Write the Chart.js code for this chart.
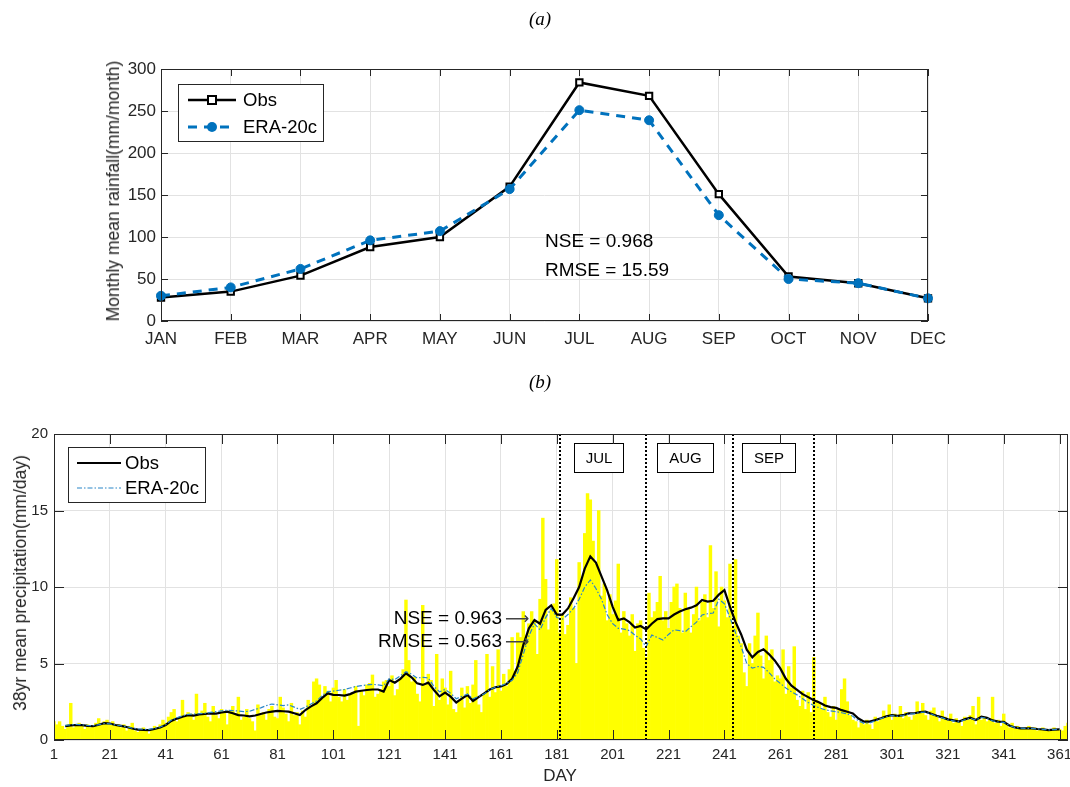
<!DOCTYPE html>
<html><head><meta charset="utf-8">
<script src="https://cdn.jsdelivr.net/npm/chart.js@4.4.1/dist/chart.umd.min.js"></script>
<style>
body{margin:0;background:#fff;width:1070px;height:787px;position:relative;overflow:hidden;font-family:"Liberation Sans",Arial,sans-serif;color:#262626}
canvas{position:absolute;left:0}
.t{position:absolute;white-space:nowrap;line-height:20px;z-index:2}
.cap{font-family:"Liberation Serif","Times New Roman",serif;font-style:italic;font-size:19px;color:#000;transform:translateX(-50%)}
.yt{transform:translate(-50%,-50%) rotate(-90deg);font-size:17.5px}
.nse{font-size:19px;color:#000}
.arr{font-family:"DejaVu Sans",sans-serif;font-size:17px;color:#444}
</style></head><body>
<canvas id="ca" width="1070" height="365" style="top:0"></canvas>
<canvas id="cb" width="1070" height="422" style="top:365px"></canvas>
<div class="t cap" style="left:540px;top:9px">(a)</div>
<div class="t cap" style="left:540px;top:372px">(b)</div>
<div class="t yt" style="left:113px;top:191px">Monthly mean rainfall(mm/month)</div>
<div class="t yt" style="left:20px;top:583px">38yr mean precipitation(mm/day)</div>
<div class="t" style="left:560px;top:766px;font-size:17px;transform:translateX(-50%)">DAY</div>
<div class="t nse" style="left:545px;top:231px">NSE = 0.968</div>
<div class="t nse" style="left:545px;top:260px">RMSE = 15.59</div>
<div class="t nse" style="right:568px;top:608px">NSE = 0.963</div>
<div class="t nse" style="right:568px;top:631px">RMSE = 0.563</div>
<div class="t arr" style="left:505px;top:608px">⟶</div>
<div class="t arr" style="left:505px;top:631px">⟶</div>
<script>
Chart.defaults.font.family='"Liberation Sans", Arial, sans-serif';
Chart.defaults.color='#262626';

// (a) monthly means
const months=['JAN','FEB','MAR','APR','MAY','JUN','JUL','AUG','SEP','OCT','NOV','DEC'];
const obsMonthly=[28,35,54,88,100,160,284,268,151,53,45,27];
const eraMonthly=[30,40,62,96,107,157,251,239,126,50,45,27];

// (b) daily 38yr mean, days 1..365
const dailyObs=[
1.2,1.0,1.2,0.9,0.7,1.0,2.4,0.8,1.0,1.1,
0.9,0.7,1.0,0.8,0.9,1.1,1.4,1.0,1.2,1.3,
1.1,1.2,0.9,1.0,0.8,1.0,0.6,0.9,1.1,0.6,
0.5,0.7,0.8,0.6,0.4,0.7,0.9,0.8,1.0,1.3,
1.1,1.5,1.8,2.0,1.2,1.4,2.6,1.5,1.8,1.7,
1.3,3.0,1.6,1.9,2.4,1.5,1.2,2.2,1.6,1.4,
2.0,1.8,1.0,1.9,2.2,1.7,2.8,1.3,1.5,2.0,
1.4,1.2,0.6,2.3,1.6,1.8,1.3,2.0,2.2,1.5,
1.4,2.8,2.1,1.7,1.2,2.4,1.6,1.8,1.0,1.9,
1.5,2.6,2.2,3.8,4.0,3.6,2.8,3.5,3.2,2.5,
3.4,3.9,2.8,2.5,3.3,2.6,3.0,3.1,3.5,0.9,
3.2,2.9,3.6,3.7,4.25,2.8,3.0,3.3,3.8,3.9,
3.5,4.2,2.9,3.3,4.0,4.6,9.15,5.2,3.8,4.1,
3.0,2.5,8.8,3.6,4.3,3.9,2.2,5.6,2.6,4.0,
3.4,2.3,4.5,2.0,1.8,2.5,3.4,2.1,3.5,2.4,
3.6,5.2,2.3,1.8,3.0,5.6,2.8,4.8,3.1,5.9,
3.2,4.3,3.5,4.6,6.7,4.5,7.0,6.7,8.4,6.8,
7.6,8.4,7.8,5.6,9.2,14.5,10.5,7.2,8.5,8.9,
11.8,7.0,8.2,6.9,7.5,9.3,8.6,5.0,11.6,10.5,
13.5,16.1,15.7,13.0,11.5,15.0,9.4,10.2,7.8,9.5,
8.2,9.1,11.5,7.0,8.4,7.6,6.8,8.2,5.8,7.6,
7.8,6.0,5.4,9.6,8.0,8.4,9.0,10.7,7.8,8.4,
7.3,9.0,10.0,10.2,8.6,7.0,9.6,8.6,7.0,8.2,
10.0,7.8,9.0,9.5,8.0,12.7,8.6,11.0,7.4,10.0,
9.1,8.0,11.5,7.3,11.8,6.8,6.3,4.4,3.5,6.3,
5.0,6.8,8.3,5.5,4.0,6.8,5.2,5.9,3.8,4.2,
4.0,5.9,3.0,4.8,3.4,6.1,2.6,2.2,3.2,2.0,
3.1,1.8,5.4,2.6,2.4,2.0,2.8,1.8,1.5,2.2,
1.3,2.0,3.3,4.0,2.5,1.6,1.3,1.2,0.8,1.2,
1.0,1.3,1.0,0.7,1.5,1.2,1.4,1.9,1.6,2.3,
1.3,1.7,1.5,2.2,1.4,1.8,1.5,1.3,1.6,2.5,
1.8,2.4,1.6,1.3,1.9,2.1,1.6,1.2,1.9,1.5,
1.3,1.7,1.1,1.4,1.2,0.9,1.5,1.3,1.6,2.2,
1.0,2.8,1.3,1.5,1.2,1.4,2.8,1.1,1.3,0.9,
1.7,1.0,0.8,1.1,0.7,0.9,0.8,0.7,0.8,0.9,
0.7,0.8,0.6,0.7,0.8,0.6,0.7,0.6,0.8,0.7,
0.7,0.6,0.9,1.1,1.0];
const days=dailyObs.map((v,i)=>i+1);

// smoothed curves, read at odd days 5..361
const obsSmooth=[
0.90,0.95,0.98,0.97,0.92, 0.90,1.00,1.10,1.08,0.98, 0.92,0.85,0.75,0.68,0.66, 0.65,0.72,0.82,0.98,1.25,
1.40,1.52,1.62,1.60,1.67, 1.70,1.74,1.72,1.80,1.85, 1.75,1.63,1.60,1.55,1.60, 1.70,1.80,1.85,1.90,1.88,
1.85,1.75,1.63,1.96,2.20, 2.40,2.75,3.05,2.95,2.94, 2.90,3.00,3.16,3.22,3.27, 3.30,3.30,3.16,3.92,3.75,
4.00,4.36,4.10,3.70,3.60, 3.75,3.27,2.85,3.10,2.83, 2.45,2.70,2.94,2.55,2.80, 3.05,3.30,3.45,3.50,3.65,
4.00,4.80,6.20,7.30,7.84, 7.60,8.50,8.80,8.20,8.20, 8.60,9.26,10.00,11.20,12.00, 11.60,10.70,9.80,8.70,7.84,
7.95,7.70,7.35,7.45,7.23, 7.60,7.90,7.95,7.95,8.20, 8.40,8.55,8.65,8.80,9.15, 9.05,9.10,9.50,9.80,8.70,
7.70,6.90,5.90,5.40,5.75, 5.93,5.60,5.20,4.68,4.00, 3.55,3.27,3.00,2.80,2.60, 2.45,2.25,2.15,2.10,1.95,
1.85,1.74,1.40,1.20,1.20, 1.30,1.42,1.55,1.63,1.58, 1.62,1.74,1.75,1.82,1.85, 1.72,1.58,1.48,1.35,1.28,
1.20,1.35,1.46,1.31,1.52, 1.45,1.28,1.20,1.18,0.95, 0.82,0.76,0.76,0.76,0.72, 0.70,0.65,0.68,0.70];
const eraSmooth=[
0.95,1.00,1.02,1.00,0.95, 0.93,1.00,1.08,1.05,0.98, 0.93,0.86,0.78,0.72,0.70, 0.70,0.75,0.85,1.00,1.30,
1.45,1.58,1.68,1.70,1.72, 1.75,1.80,1.85,1.90,1.95, 1.92,1.90,1.85,1.88,2.00, 2.10,2.25,2.35,2.30,2.25,
2.30,2.15,2.00,2.15,2.35, 2.55,2.90,3.16,3.20,3.25, 3.30,3.40,3.50,3.55,3.60, 3.64,3.60,3.55,4.00,3.95,
4.20,4.47,4.30,4.05,4.10, 4.05,3.50,3.15,3.30,3.05, 2.70,2.85,3.00,2.70,2.85, 3.00,3.30,3.45,3.55,3.70,
3.90,4.40,5.60,6.80,7.60, 7.20,8.00,8.60,8.00,7.90, 8.20,8.60,9.20,10.00,10.46, 9.90,9.20,8.20,7.60,7.30,
7.25,7.15,6.85,6.60,6.10, 6.86,6.70,6.54,6.90,7.20, 7.15,7.08,7.40,7.70,8.17, 8.25,8.30,9.20,8.90,8.00,
7.00,6.10,5.00,4.70,4.80, 4.75,4.40,4.00,3.70,3.40, 3.15,2.95,2.70,2.45,2.25, 2.10,1.98,1.90,1.85,1.78,
1.70,1.55,1.25,1.09,1.12, 1.25,1.40,1.52,1.60,1.55, 1.60,1.70,1.72,1.80,1.82, 1.70,1.55,1.45,1.32,1.25,
1.18,1.32,1.42,1.30,1.48, 1.42,1.25,1.18,1.15,0.95, 0.82,0.78,0.76,0.76,0.72, 0.70,0.66,0.68,0.70];
const smoothDays=obsSmooth.map((v,i)=>5+2*i);

const dayTicks=[1,21,41,61,81,101,121,141,161,181,201,221,241,261,281,301,321,341,361];
const monthStarts=[182,213,244,273];
const boxLabels=['JUL','AUG','SEP'];
const boxFrom=[187.2,216.9,247.3];
const boxTo=[204.8,237,266.3];

// box + inward ticks like matlab
function frame(len){
  return {id:'frame',afterDraw(c){
    const {ctx,chartArea:a,scales:{x,y}}=c;
    ctx.save();ctx.strokeStyle='#262626';ctx.lineWidth=1;
    ctx.strokeRect(Math.round(a.left)+0.5,Math.round(a.top)+0.5,Math.round(a.width)-1,Math.round(a.height)-1);
    ctx.beginPath();
    x.ticks.forEach((t,i)=>{const p=Math.round(x.getPixelForTick(i))+0.5;
      ctx.moveTo(p,a.bottom);ctx.lineTo(p,a.bottom-len);ctx.moveTo(p,a.top);ctx.lineTo(p,a.top+len);});
    y.ticks.forEach((t,i)=>{const p=Math.round(y.getPixelForTick(i))+0.5;
      ctx.moveTo(a.left,p);ctx.lineTo(a.left+len,p);ctx.moveTo(a.right,p);ctx.lineTo(a.right-len,p);});
    ctx.stroke();ctx.restore();}};
}

const legendA={id:'legendA',afterDraw(c){
  const ctx=c.ctx;ctx.save();
  ctx.fillStyle='#fff';ctx.fillRect(178,84,145,57);
  ctx.strokeStyle='#262626';ctx.lineWidth=1;ctx.strokeRect(178.5,84.5,145,57);
  ctx.strokeStyle='#000';ctx.lineWidth=2.5;ctx.beginPath();ctx.moveTo(188,100);ctx.lineTo(236,100);ctx.stroke();
  ctx.fillStyle='#fff';ctx.lineWidth=2;ctx.fillRect(208,96,8,8);ctx.strokeRect(208,96,8,8);
  ctx.strokeStyle='#0072BD';ctx.lineWidth=3;ctx.setLineDash([9,7]);ctx.beginPath();ctx.moveTo(188,127);ctx.lineTo(236,127);ctx.stroke();
  ctx.setLineDash([]);ctx.fillStyle='#0072BD';ctx.beginPath();ctx.arc(212,127,5,0,Math.PI*2);ctx.fill();
  ctx.fillStyle='#000';ctx.font='18.5px "Liberation Sans", Arial, sans-serif';ctx.textBaseline='middle';
  ctx.fillText('Obs',243,101);ctx.fillText('ERA-20c',243,128);
  ctx.restore();}};

const legendB={id:'legendB',afterDraw(c){
  const ctx=c.ctx;ctx.save();
  ctx.fillStyle='#fff';ctx.fillRect(68,82,137,55);
  ctx.strokeStyle='#262626';ctx.lineWidth=1;ctx.strokeRect(68.5,82.5,137,55);
  ctx.strokeStyle='#000';ctx.lineWidth=2.2;ctx.beginPath();ctx.moveTo(77,98);ctx.lineTo(121,98);ctx.stroke();
  ctx.strokeStyle='#2a86c8';ctx.lineWidth=1.2;ctx.setLineDash([5,2,1.5,2]);ctx.beginPath();ctx.moveTo(77,123);ctx.lineTo(121,123);ctx.stroke();
  ctx.setLineDash([]);ctx.fillStyle='#000';ctx.font='18.5px "Liberation Sans", Arial, sans-serif';ctx.textBaseline='middle';
  ctx.fillText('Obs',125,99);ctx.fillText('ERA-20c',125,124);
  ctx.restore();}};

const monthMarks={id:'monthMarks',afterDatasetsDraw(c){
  const {ctx,chartArea:a,scales:{x,y}}=c;ctx.save();
  ctx.strokeStyle='#000';ctx.lineWidth=2;ctx.setLineDash([2,2]);
  monthStarts.forEach(d=>{const p=Math.round(x.getPixelForValue(d));ctx.beginPath();ctx.moveTo(p,a.top);ctx.lineTo(p,a.bottom);ctx.stroke();});
  ctx.setLineDash([]);ctx.lineWidth=1;ctx.font='15px "Liberation Sans", Arial, sans-serif';ctx.textAlign='center';ctx.textBaseline='middle';
  boxLabels.forEach((l,i)=>{const x0=Math.round(x.getPixelForValue(boxFrom[i]))+0.5,x1=Math.round(x.getPixelForValue(boxTo[i]))+0.5;
    const y0=Math.round(y.getPixelForValue(19.4))+0.5,y1=Math.round(y.getPixelForValue(17.5))+0.5;
    ctx.fillStyle='#fff';ctx.fillRect(x0,y0,x1-x0,y1-y0);ctx.strokeStyle='#000';ctx.strokeRect(x0,y0,x1-x0,y1-y0);
    ctx.fillStyle='#000';ctx.fillText(l,(x0+x1)/2,(y0+y1)/2+1);});
  ctx.restore();}};

const gridCol='#e2e2e2';

new Chart(document.getElementById('ca'),{
  type:'line',
  data:{labels:months,datasets:[
    {label:'Obs',data:obsMonthly,borderColor:'#000',borderWidth:2.5,pointStyle:'rect',pointRadius:4.5,pointBorderWidth:2,
     pointBackgroundColor:'#fff',pointBorderColor:'#000',tension:0,order:2},
    {label:'ERA-20c',data:eraMonthly,borderColor:'#0072BD',borderWidth:3,borderDash:[9,7],pointRadius:4.5,pointBorderWidth:1,
     pointBackgroundColor:'#0072BD',pointBorderColor:'#0072BD',tension:0,order:1}
  ]},
  options:{responsive:false,devicePixelRatio:1,animation:false,
    layout:{padding:{left:90,right:142,top:69,bottom:10}},
    plugins:{legend:{display:false},tooltip:{enabled:false}},
    scales:{
      x:{offset:false,grid:{color:gridCol,drawTicks:false,offset:false},border:{display:false},
        ticks:{font:{size:17},padding:8,maxRotation:0,autoSkip:false},
        afterFit(s){s.height=34;s.paddingLeft=0;s.paddingRight=0;}},
      y:{min:0,max:300,grid:{color:gridCol,drawTicks:false},border:{display:false},
        ticks:{stepSize:50,font:{size:17},padding:5},
        afterFit(s){s.width=71;s.paddingTop=0;s.paddingBottom=0;}}
    }},
  plugins:[frame(7),legendA]
});

new Chart(document.getElementById('cb'),{
  type:'bar',
  data:{datasets:[
    {type:'bar',label:'daily',data:days.map((d,i)=>({x:d,y:dailyObs[i]})),backgroundColor:'#ffff00',
     barPercentage:1,categoryPercentage:1,borderWidth:0,order:3},
    {type:'line',label:'Obs',data:smoothDays.map((d,i)=>({x:d,y:obsSmooth[i]})),borderColor:'#000',borderWidth:2.2,
     pointRadius:0,tension:0,order:2},
    {type:'line',label:'ERA-20c',data:smoothDays.map((d,i)=>({x:d,y:eraSmooth[i]})),borderColor:'#2a86c8',borderWidth:1.2,
     borderDash:[5,2,1.5,2],pointRadius:0,tension:0,order:1}
  ]},
  options:{responsive:false,devicePixelRatio:1,animation:false,
    layout:{padding:{left:0,right:2,top:69,bottom:17}},
    plugins:{legend:{display:false},tooltip:{enabled:false}},
    scales:{
      x:{type:'linear',min:1,max:364,offset:false,grid:{color:gridCol,drawTicks:false,offset:false},border:{display:false},
        ticks:{font:{size:15},padding:6,maxRotation:0,autoSkip:false},
        afterBuildTicks(s){s.ticks=dayTicks.map(v=>({value:v}));},
        afterFit(s){s.height=30;s.paddingLeft=0;s.paddingRight=0;}},
      y:{min:0,max:20,grid:{color:gridCol,drawTicks:false},border:{display:false},
        ticks:{stepSize:5,font:{size:15},padding:6},
        afterFit(s){s.width=54;s.paddingTop=0;s.paddingBottom=0;}}
    }},
  plugins:[monthMarks,frame(10),legendB]
});
</script>
</body></html>
